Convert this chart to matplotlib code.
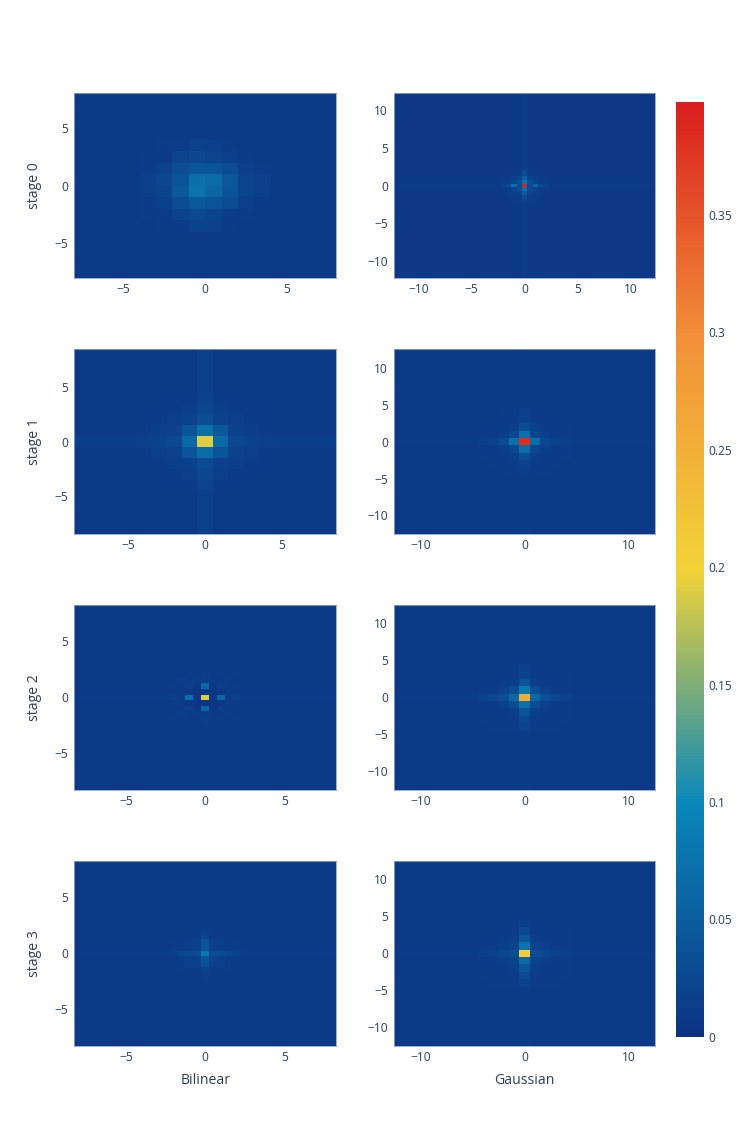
import numpy as np
import matplotlib
matplotlib.use('Agg')
import matplotlib.pyplot as plt
from matplotlib.colors import LinearSegmentedColormap

# ---- settings ----
FIG_W, FIG_H = 747, 1121
DPI = 100
FONT = 'Open Sans'
TEXT_COLOR = '#2a3f5f'
TICK_SIZE = 12 * 72 / DPI     # 12px
TITLE_SIZE = 14 * 72 / DPI    # 14px
ZMAX = 0.398

# plotly "Portland"
PORTLAND = ['#0c3383', '#0a88ba', '#f2d338', '#f28f38', '#d91e1e']

# ---- data (core blocks around the origin, rows listed top -> bottom) ----
stage_names = ['stage 0', 'stage 1', 'stage 2', 'stage 3']
method_names = ['Bilinear', 'Gaussian']

# grid: number of cells per side, cell spacing
bilinear_cells = [16, 17, 33, 33]
bilinear_step = [1.0, 1.0, 0.5, 0.5]
gaussian_cells = [49, 25, 25, 25]
gaussian_step = [0.5, 1.0, 1.0, 1.0]

bilinear_bg = [0.008, 0.009, 0.008, 0.008]
bilinear_cross = [0.0, 0.014, 0.011, 0.011]
gaussian_bg = [0.007, 0.008, 0.008, 0.008]
gaussian_cross = [0.010, 0.010, 0.011, 0.011]

bilinear_s0 = [
    [.009, .010, .012, .018, .014, .010, .009, .009],
    [.010, .012, .020, .024, .020, .014, .010, .009],
    [.011, .018, .030, .040, .040, .030, .016, .011],
    [.015, .024, .040, .070, .066, .042, .020, .016],
    [.013, .020, .045, .075, .060, .040, .020, .014],
    [.011, .016, .030, .045, .040, .030, .014, .011],
    [.010, .012, .020, .024, .020, .012, .010, .009],
    [.009, .010, .012, .018, .018, .010, .009, .009],
]
bilinear_s1 = [
    [.010, .010, .011, .012, .020, .012, .011, .010, .010],
    [.010, .011, .012, .014, .022, .014, .012, .011, .010],
    [.011, .012, .014, .018, .030, .018, .014, .012, .011],
    [.012, .014, .018, .040, .070, .042, .018, .014, .012],
    [.016, .020, .025, .062, .190, .065, .025, .020, .016],
    [.012, .014, .018, .040, .068, .040, .018, .014, .012],
    [.011, .012, .014, .016, .028, .016, .014, .012, .011],
    [.010, .011, .012, .013, .022, .013, .012, .011, .010],
    [.010, .010, .011, .012, .020, .012, .011, .010, .010],
]
bilinear_s2 = [
    [.010, .008, .012, .008, .014, .008, .012, .008, .010],
    [.008, .014, .008, .010, .010, .010, .008, .010, .008],
    [.012, .008, .016, .006, .065, .006, .014, .008, .012],
    [.008, .010, .006, .004, .006, .004, .006, .010, .008],
    [.018, .010, .070, .006, .190, .006, .065, .010, .018],
    [.008, .010, .006, .004, .006, .004, .006, .010, .008],
    [.012, .008, .016, .006, .060, .006, .014, .008, .012],
    [.008, .014, .008, .010, .010, .010, .008, .010, .008],
    [.010, .008, .012, .008, .014, .008, .012, .008, .010],
]
bilinear_s3 = [
    [.008, .009, .010, .010, .014, .010, .010, .009, .008],
    [.009, .010, .010, .012, .018, .012, .010, .010, .009],
    [.010, .012, .014, .018, .040, .018, .014, .012, .010],
    [.010, .012, .014, .016, .040, .016, .014, .012, .010],
    [.014, .022, .025, .030, .080, .030, .028, .022, .016],
    [.010, .012, .014, .016, .040, .016, .014, .012, .010],
    [.010, .012, .014, .016, .035, .016, .014, .012, .010],
    [.009, .010, .010, .012, .020, .012, .010, .010, .009],
    [.008, .009, .010, .010, .014, .010, .010, .009, .008],
]

gaussian_s0 = [
    [.007, .007, .008, .010, .022, .010, .008, .007, .007],
    [.007, .008, .010, .012, .030, .012, .010, .008, .007],
    [.008, .010, .014, .020, .050, .020, .014, .010, .008],
    [.010, .012, .020, .030, .080, .030, .020, .012, .010],
    [.020, .028, .070, .030, .392, .030, .062, .028, .020],
    [.010, .012, .020, .030, .075, .030, .020, .012, .010],
    [.008, .010, .014, .020, .045, .020, .014, .010, .008],
    [.007, .008, .010, .012, .028, .012, .010, .008, .007],
    [.007, .007, .008, .010, .020, .010, .008, .007, .007],
]
gaussian_s1 = [
    [.008, .009, .010, .011, .014, .011, .010, .009, .008],
    [.009, .010, .011, .012, .016, .012, .011, .010, .009],
    [.010, .011, .012, .014, .030, .016, .012, .011, .010],
    [.011, .012, .014, .022, .070, .022, .014, .012, .011],
    [.014, .018, .028, .070, .385, .068, .026, .018, .014],
    [.011, .012, .014, .022, .068, .022, .014, .012, .011],
    [.010, .011, .012, .014, .030, .014, .012, .011, .010],
    [.009, .010, .011, .012, .018, .012, .011, .010, .009],
    [.008, .009, .010, .011, .014, .011, .010, .009, .008],
]
gaussian_s2 = [
    [.009, .010, .010, .011, .016, .011, .010, .010, .009],
    [.010, .010, .011, .012, .020, .012, .011, .010, .010],
    [.010, .011, .012, .014, .040, .014, .012, .011, .010],
    [.011, .012, .016, .030, .085, .030, .016, .012, .011],
    [.018, .022, .035, .065, .255, .065, .035, .022, .018],
    [.011, .012, .016, .030, .075, .030, .016, .012, .011],
    [.010, .011, .012, .014, .040, .014, .012, .011, .010],
    [.010, .010, .011, .012, .025, .012, .011, .010, .010],
    [.009, .010, .010, .011, .018, .011, .010, .010, .009],
]
gaussian_s3 = [
    [.009, .010, .010, .011, .016, .011, .010, .010, .009],
    [.010, .010, .011, .012, .026, .012, .011, .010, .010],
    [.010, .011, .012, .014, .042, .014, .012, .011, .010],
    [.011, .012, .014, .020, .075, .020, .014, .012, .011],
    [.014, .016, .022, .030, .205, .030, .022, .016, .014],
    [.011, .012, .014, .018, .065, .018, .014, .012, .011],
    [.010, .011, .012, .014, .040, .014, .012, .011, .010],
    [.010, .010, .011, .012, .028, .012, .011, .010, .010],
    [.009, .010, .010, .011, .018, .011, .010, .010, .009],
]

bilinear_cores = [bilinear_s0, bilinear_s1, bilinear_s2, bilinear_s3]
gaussian_cores = [gaussian_s0, gaussian_s1, gaussian_s2, gaussian_s3]

bilinear_ticks = [-5, 0, 5]
gaussian_yticks = [-10, -5, 0, 5, 10]
gaussian_xticks = [[-10, -5, 0, 5, 10], [-10, 0, 10], [-10, 0, 10], [-10, 0, 10]]
cbar_ticks = [0, 0.05, 0.1, 0.15, 0.2, 0.25, 0.3, 0.35]


def build_grid(n, step, core, bg, cross):
    z = np.full((n, n), bg)
    if cross and n % 2 == 1:
        z[n // 2, :] = cross
        z[:, n // 2] = cross
    c = np.array(core)[::-1]
    k = c.shape[0]
    i0 = (n - k) // 2
    z[i0:i0 + k, i0:i0 + k] = c
    half = (n - 1) / 2 * step
    edges = np.linspace(-half - step / 2, half + step / 2, n + 1)
    return edges, z


def style_axis(ax, xticks, yticks):
    ax.set_xticks(xticks)
    ax.set_yticks(yticks)
    ax.tick_params(length=0, labelsize=TICK_SIZE, colors=TEXT_COLOR)
    ax.tick_params(axis='y', pad=4.5)
    ax.tick_params(axis='x', pad=4)
    for sp in ax.spines.values():
        sp.set_color('#8ea3c9')
        sp.set_linewidth(0.6)


plt.rcParams['font.family'] = [FONT, 'DejaVu Sans']
cmap = LinearSegmentedColormap.from_list('portland', PORTLAND)

fig = plt.figure(figsize=(FIG_W / DPI, FIG_H / DPI), dpi=DPI)

col_left = [74.3, 394.3]
col_right = [336.0, 655.0]
row_top = [93.3, 349.3, 605.0, 861.0]
row_h = 184.6

mesh = None
for r in range(4):
    for c in range(2):
        x0 = col_left[c] / FIG_W
        w = (col_right[c] - col_left[c]) / FIG_W
        b = 1 - (row_top[r] + row_h) / FIG_H
        ax = fig.add_axes([x0, b, w, row_h / FIG_H])
        if c == 0:
            edges, z = build_grid(bilinear_cells[r], bilinear_step[r], bilinear_cores[r],
                                  bilinear_bg[r], bilinear_cross[r])
            xt, yt = bilinear_ticks, bilinear_ticks
        else:
            edges, z = build_grid(gaussian_cells[r], gaussian_step[r], gaussian_cores[r],
                                  gaussian_bg[r], gaussian_cross[r])
            xt, yt = gaussian_xticks[r], gaussian_yticks
        mesh = ax.pcolormesh(edges, edges, z, cmap=cmap, vmin=0, vmax=ZMAX,
                             shading='flat', antialiased=False)
        ax.set_xlim(edges[0], edges[-1])
        ax.set_ylim(edges[0], edges[-1])
        style_axis(ax, xt, yt)
    fig.text(35 / FIG_W, 1 - (row_top[r] + row_h / 2) / FIG_H, stage_names[r],
             rotation=90, ha='center', va='center', fontsize=TITLE_SIZE, color=TEXT_COLOR)

for c in range(2):
    xc = (col_left[c] + col_right[c]) / 2 / FIG_W
    fig.text(xc, 1 - 1080 / FIG_H, method_names[c], ha='center', va='center',
             fontsize=TITLE_SIZE, color=TEXT_COLOR)

cax = fig.add_axes([676 / FIG_W, 1 - 1036.7 / FIG_H, 28 / FIG_W, 934.4 / FIG_H])
cb = fig.colorbar(mesh, cax=cax)
cb.set_ticks(cbar_ticks)
cb.set_ticklabels([f'{t:g}' for t in cbar_ticks])
cb.outline.set_visible(False)
cax.tick_params(length=0, labelsize=TICK_SIZE, colors=TEXT_COLOR, pad=3)

fig.savefig('out.png', dpi=DPI)
